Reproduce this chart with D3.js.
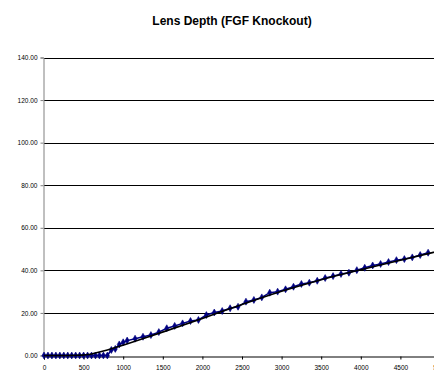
<!DOCTYPE html>
<html><head><meta charset="utf-8">
<script src="https://cdn.jsdelivr.net/npm/d3@7"></script>
<style>body{margin:0;background:#fff;} svg{display:block;}</style>
</head><body>
<script>
const title = "Lens Depth (FGF Knockout)";
const xs = [0,50,100,150,200,250,300,350,400,450,500,550,600,650,700,750,800,
  850,900,950,1000,1050,1150,1250,1350,1450,1550,1650,1750,1850,1950,2050,2150,
  2250,2350,2450,2550,2650,2750,2850,2950,3050,3150,3250,3350,3450,3550,3650,3750,
  3850,3950,4050,4150,4250,4350,4450,4550,4650,4750,4850];
const depth = [0,0,0,0,0,0,0,0,0,0,0,0,0,0,0,0,0,
  2.6,3.1,5.2,6.2,7.0,7.9,8.8,9.6,11.0,12.8,13.9,15.1,16.2,16.7,19.0,20.2,
  20.9,22.2,22.9,25.3,26.1,27.3,29.5,30.0,31.1,32.3,33.6,34.2,35.1,36.4,37.3,38.3,
  38.9,40.1,41.2,42.3,43.0,43.9,44.8,45.3,46.1,47.2,48.3];
const trendX = [0,500,600,700,800,900,1000,1200,1500,2000,2500,3000,3500,4000,4500,5000];
const trendY = [0,0,0.7,1.6,2.6,3.7,4.9,7.3,11.0,17.4,24.0,30.3,35.8,40.3,44.7,49.2];
const yTicks = [0,20,40,60,80,100,120,140];
const xTicks = [0,500,1000,1500,2000,2500,3000,3500,4000,4500,5000];

const W = 434, H = 375;
const svg = d3.select("body").append("svg").attr("width", W).attr("height", H);
const x = d3.scaleLinear().domain([0,5000]).range([44, 440]);
const y = d3.scaleLinear().domain([0,140]).range([355.5, 57.5]);

svg.append("text").attr("x", 232).attr("y", 25).attr("text-anchor","middle")
  .attr("font-family","Liberation Sans, Arial, sans-serif").attr("font-weight","bold")
  .attr("font-size", 12).text(title);

// gridlines
svg.append("g").selectAll("line").data(yTicks.filter(d=>d>0)).join("line")
  .attr("x1", x(0)).attr("x2", W).attr("y1", d=>Math.round(y(d))+0.5).attr("y2", d=>Math.round(y(d))+0.5)
  .attr("stroke","#000").attr("stroke-width",1);

// y axis
const ya = svg.append("g").attr("transform",`translate(${x(0)-0.5},0)`)
  .call(d3.axisLeft(y).tickValues(yTicks).tickFormat(d3.format(".2f")).tickSize(3).tickPadding(3));
ya.select(".domain").attr("stroke","#808080");
ya.selectAll(".tick line").attr("stroke","#808080");
ya.selectAll("text").attr("font-family","Liberation Sans, Arial, sans-serif").attr("font-size",6.5).attr("fill","#000");

// x axis
const xa = svg.append("g").attr("transform",`translate(0,${Math.round(y(0))+0.5})`)
  .call(d3.axisBottom(x).tickValues(xTicks).tickFormat(d3.format("d")).tickSizeOuter(0).tickSize(3).tickPadding(6));
xa.select(".domain").attr("stroke","#000");
xa.selectAll(".tick line").attr("stroke","#000");
xa.selectAll("text").attr("font-family","Liberation Sans, Arial, sans-serif").attr("font-size",6.5).attr("fill","#000");

// data line
const pts = xs.map((d,i)=>[d, depth[i]]);
svg.append("path").datum(pts)
  .attr("d", d3.line().x(d=>x(d[0])).y(d=>y(d[1])))
  .attr("fill","none").attr("stroke","#000080").attr("stroke-width",1.5);

// markers
svg.append("g").selectAll("path").data(pts).join("path")
  .attr("transform", d=>`translate(${x(d[0])},${y(d[1])})`)
  .attr("d", d3.symbol(d3.symbolDiamond, 14))
  .attr("fill","#000080").attr("stroke","#000080").attr("stroke-width",0.6);

// trend line
const tp = trendX.map((d,i)=>[d, trendY[i]]);
svg.append("path").datum(tp)
  .attr("d", d3.line().curve(d3.curveBasis).x(d=>x(d[0])).y(d=>y(d[1])))
  .attr("fill","none").attr("stroke","#000").attr("stroke-width",1.6);
</script>
</body></html>
